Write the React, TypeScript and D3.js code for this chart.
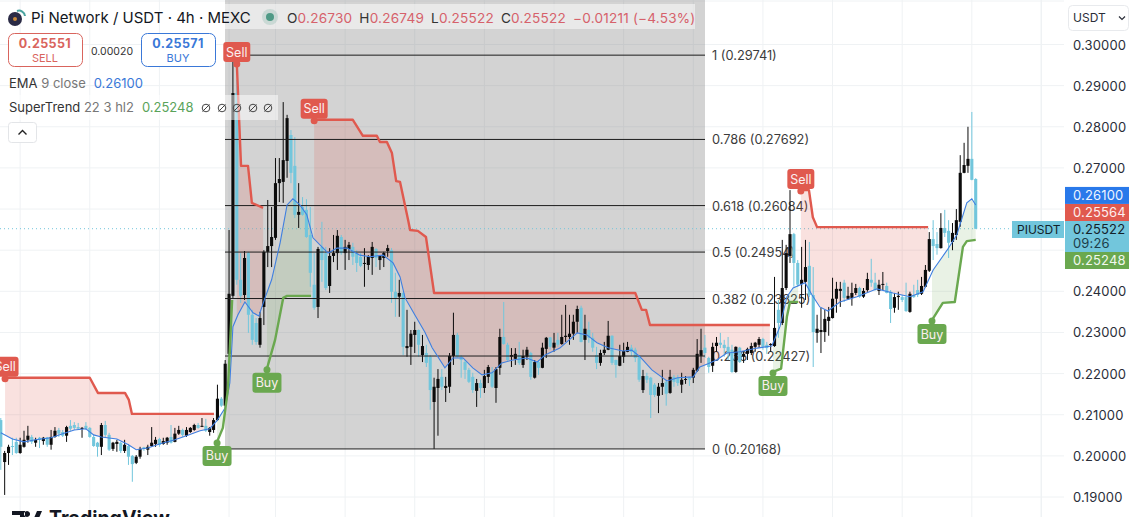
import React from "react";
import * as d3 from "d3";

// candle prices are in 1/10000 USDT
const opens = [
  2087,1985,2007,2024,2034,2007,2022,2039,2046,2032,
  2044,2036,2045,2027,2046,2063,2058,2049,2073,2075,
  2070,2066,2073,2068,2046,2032,2022,2075,2051,2017,
  2029,2032,2012,2024,2000,1983,1998,2021,2015,2024,
  2029,2041,2029,2032,2046,2034,2054,2063,2049,2058,
  2063,2075,2071,2073,2058,2063,2087,2139,2122,2248,
  2389,2882,2428,2391,2493,2343,2323,2270,2362,2496,
  2510,2530,2663,2666,2717,2780,2705,2586,2605,2598,
  2537,2416,2362,2508,2493,2413,2486,2493,2532,2493,
  2503,2508,2493,2484,2467,2464,2481,2503,2476,2481,
  2498,2500,2399,2387,2396,2262,2265,2294,2306,2245,
  2250,2241,2131,2165,2192,2165,2168,2243,2294,2241,
  2228,2209,2192,2158,2177,2165,2192,2204,2165,2214,
  2289,2270,2241,2236,2245,2221,2241,2250,2190,2228,
  2214,2260,2288,2263,2282,2272,2289,2289,2297,2326,
  2360,2282,2306,2287,2245,2226,2250,2258,2292,2233,
  2219,2241,2253,2263,2258,2243,2160,2194,2190,2173,
  2146,2168,2180,2153,2192,2190,2173,2185,2190,2190,
  2207,2243,2263,2238,2219,2267,2275,2270,2265,2258,
  2204,2263,2241,2248,2250,2265,2270,2284,2270,2270,
  2267,2355,2323,2408,2486,2539,2469,2418,2423,2462,
  2391,2299,2301,2301,2328,2335,2382,2401,2421,2382,
  2384,2396,2408,2387,2403,2428,2421,2401,2416,2413,
  2399,2360,2386,2386,2386,2350,2391,2403,2394,2411,
  2450,2527,2515,2505,2554,2547,2520,2537,2569,2688,
  2705,2722,2673,
];
const closes = [
  2022,2007,2022,2022,2007,2027,2039,2049,2034,2039,
  2039,2044,2027,2046,2061,2054,2049,2070,2066,2068,
  2066,2068,2066,2046,2024,2022,2075,2051,2015,2032,
  2034,2012,2027,1998,1980,1998,2017,2017,2022,2032,
  2039,2027,2036,2044,2032,2054,2063,2051,2063,2068,
  2075,2068,2073,2061,2068,2087,2139,2122,2224,2394,
  2882,2428,2389,2481,2343,2282,2277,2335,2496,2510,
  2532,2663,2673,2719,2821,2688,2586,2593,2586,2532,
  2445,2360,2503,2476,2408,2486,2493,2535,2493,2508,
  2513,2484,2469,2462,2469,2484,2508,2481,2486,2493,
  2505,2399,2384,2396,2265,2267,2297,2306,2270,2267,
  2226,2160,2168,2187,2168,2170,2243,2294,2241,2233,
  2209,2180,2160,2177,2165,2194,2216,2168,2211,2289,
  2272,2233,2245,2248,2226,2243,2258,2192,2228,2214,
  2263,2287,2265,2275,2270,2289,2292,2297,2326,2357,
  2277,2309,2287,2263,2226,2250,2258,2292,2226,2221,
  2243,2255,2265,2253,2238,2185,2194,2185,2148,2148,
  2168,2177,2151,2192,2180,2177,2185,2187,2185,2209,
  2248,2257,2250,2216,2265,2275,2270,2262,2250,2204,
  2265,2228,2248,2260,2267,2275,2284,2265,2262,2272,
  2311,2323,2408,2493,2539,2469,2416,2428,2459,2391,
  2301,2309,2306,2333,2338,2382,2406,2406,2384,2389,
  2396,2408,2387,2401,2430,2421,2403,2416,2418,2396,
  2357,2386,2389,2379,2352,2394,2386,2391,2413,2452,
  2527,2510,2505,2554,2542,2518,2542,2573,2688,2707,
  2722,2671,2552,
];
const highs = [
  2092,2012,2027,2044,2044,2044,2061,2073,2051,2044,
  2046,2046,2046,2063,2070,2068,2063,2073,2087,2082,
  2080,2070,2082,2070,2051,2034,2080,2085,2056,2034,
  2039,2034,2039,2029,2002,2002,2022,2022,2027,2070,
  2046,2044,2044,2046,2075,2068,2073,2066,2070,2070,
  2078,2080,2092,2090,2070,2092,2173,2143,2233,2549,
  2974,2914,2493,2498,2496,2355,2335,2350,2500,2622,
  2605,2724,2724,2860,2829,2792,2775,2663,2629,2624,
  2605,2493,2508,2569,2508,2505,2537,2549,2537,2525,
  2520,2518,2500,2493,2505,2488,2520,2505,2488,2496,
  2513,2505,2445,2428,2399,2355,2306,2326,2307,2294,
  2270,2245,2190,2211,2211,2192,2250,2348,2299,2245,
  2233,2214,2202,2187,2185,2209,2221,2216,2216,2309,
  2374,2275,2262,2262,2277,2258,2265,2253,2233,2233,
  2275,2289,2289,2299,2299,2343,2367,2343,2343,2365,
  2365,2343,2326,2299,2265,2258,2277,2328,2293,2234,
  2270,2275,2277,2270,2263,2245,2209,2202,2192,2177,
  2177,2209,2185,2209,2197,2197,2202,2194,2192,2214,
  2284,2309,2294,2241,2275,2289,2299,2282,2289,2270,
  2266,2265,2253,2263,2275,2277,2289,2287,2277,2274,
  2435,2379,2525,2513,2646,2542,2476,2508,2525,2520,
  2459,2343,2360,2355,2362,2433,2423,2423,2428,2411,
  2421,2418,2411,2408,2445,2479,2445,2428,2447,2421,
  2403,2396,2399,2391,2421,2399,2416,2428,2435,2464,
  2544,2573,2544,2590,2598,2573,2566,2600,2731,2761,
  2800,2836,2675,
];
const lows = [
  1966,1905,1978,2002,2005,2005,2020,2032,2029,2022,
  2019,2027,2022,2015,2044,2046,2046,2034,2061,2063,
  2063,2044,2063,2044,2022,1998,2002,2046,2012,2012,
  2010,2007,2007,1978,1937,1980,1993,2012,2002,2022,
  2022,2022,2027,2027,2030,2033,2051,2046,2046,2056,
  2061,2066,2070,2058,2049,2056,2085,2119,2117,2243,
  2384,2416,2372,2379,2299,2270,2270,2263,2318,2459,
  2459,2525,2617,2615,2676,2663,2578,2554,2584,2530,
  2411,2355,2335,2423,2403,2396,2471,2452,2489,2452,
  2476,2464,2447,2459,2411,2452,2440,2459,2452,2459,
  2484,2372,2338,2338,2245,2241,2221,2250,2241,2228,
  2216,2112,2017,2049,2160,2131,2153,2221,2238,2190,
  2187,2177,2153,2119,2141,2153,2177,2165,2129,2197,
  2270,2231,2216,2221,2221,2214,2233,2185,2188,2197,
  2213,2238,2258,2253,2265,2270,2277,2270,2282,2299,
  2276,2233,2275,2253,2211,2219,2245,2257,2221,2190,
  2218,2226,2252,2243,2228,2180,2153,2177,2092,2143,
  2104,2148,2122,2151,2168,2170,2153,2175,2170,2177,
  2204,2226,2238,2202,2204,2253,2262,2241,2233,2202,
  2202,2226,2226,2233,2245,2253,2263,2258,2248,2253,
  2265,2287,2318,2403,2469,2411,2411,2360,2379,2386,
  2216,2275,2250,2277,2292,2334,2348,2362,2374,2379,
  2365,2391,2384,2384,2399,2411,2402,2391,2403,2395,
  2323,2348,2355,2374,2350,2348,2384,2386,2391,2410,
  2447,2476,2489,2504,2532,2481,2500,2525,2557,2687,
  2688,2670,2552,
];

// EMA 9, read at these bars
const emaBars = [
  0,3,6,9,13,16,19,22,24,26,30,33,35,38,41,45,48,51.5,54,56,58,59.2,60,61.3,63.1,65.2,66.7,68.3,70,72.2,
  74,75.5,77.3,79.1,80.7,83,84.6,86.9,89.5,92.8,95.4,98.8,101.4,103.2,104.5,107,109.6,111.5,114.8,116.9,
  119.5,122,124.4,127,129.5,132.4,136,138.6,140.7,144.5,149,151.5,154.1,157,160.8,163.1,165.2,168.3,172.2,175,
  179,180.7,182.8,185,187.7,191,195.5,199.3,201.4,203.2,204.8,207.9,209.7,211.7,213.8,216.9,221.3,226.5,230.6,235,
  238.4,241,244.6,247.1,249.7,251,252,
];
const emaValues = [
  2056,2041,2034,2039,2044,2054,2063,2066,2051,2046,2041,2027,2015,2019,2029,2039,2049,2061,2066,2087,2117,2177,2314,2343,2374,2348,2340,2384,2428,2518,
  2610,2625,2610,2586,2530,2508,2493,2505,2505,2488,2484,2488,2469,2435,2384,2343,2301,2263,2214,2238,
  2238,2214,2197,2202,2226,2233,2238,2228,2245,2262,2299,2294,2275,2263,2255,2257,2241,2209,2182,2190,
  2192,2216,2224,2233,2250,2253,2262,2267,2314,2387,2408,2421,2391,2362,2352,2374,2387,2406,2396,2387,
  2399,2452,2500,2537,2615,2625,2610,
];

// SuperTrend legs, alternating sell and buy
const sellLegBarsA = [1.1,23,25.1,32.1,33.1,33.9,55.1];
const sellLegValuesA = [2190,2190,2153,2153,2136,2102,2102];
const buyLegBarsA = [55.9,57.4,58.7,59.8];
const buyLegValuesA = [2034,2068,2161,2379];
const sellLegBarsB = [61,62.1,63.9,64.9,67.8];
const sellLegValuesB = [2955,2705,2705,2615,2603];
const buyLegBarsB = [68.8,70.9,73,74,80.2];
const buyLegValuesB = [2212,2282,2384,2389,2389];
const sellLegBarsC = [81,91,93.6,97.2,98,99.8,101.1,102.2,103.2,105.3,105.8,107.8,109.9,112,164,165.7,166.8,167.8,198.8];
const sellLegValuesC = [2817,2817,2778,2778,2763,2763,2736,2668,2666,2573,2549,2547,2532,2396,2396,2355,2355,2318,2318];
const buyLegBarsC = [199.6,201.7,203.2,204,206.1];
const buyLegValuesC = [2204,2212,2338,2374,2374];
const sellLegBarsD = [206.8,208.9,209.9,211,239.7];
const sellLegValuesD = [2646,2646,2580,2556,2556];
const buyLegBarsD = [240.7,243.5,246.6,248.7,249.7,252];
const buyLegValuesD = [2330,2372,2374,2508,2522,2525];

const fibLevels = ["1", "0.786", "0.618", "0.5", "0.382", "0.236", "0"];
const fibPrices = [0.29741, 0.27692, 0.26084, 0.24954, 0.23825, 0.22427, 0.20168];
const priceTicks = [0.19, 0.2, 0.21, 0.22, 0.23, 0.24, 0.25, 0.26, 0.27, 0.28, 0.29, 0.3];
const gridBars = [5, 23, 41, 59, 71, 89, 107, 125, 143, 161, 179, 197, 215, 233, 251, 269];

const lastPrice = 0.25522;
const tagPrices = [0.261, 0.25564, 0.25522, 0.25248];

const FONT = "Inter, 'Noto Sans', sans-serif";
const RED = "#e0594e";
const GREEN = "#6aa84f";
const CANDLE_UP = "#0c0c0c";
const CANDLE_DOWN = "#72c6dc";

const x = d3.scaleLinear().domain([0, opens.length - 1]).range([0.8, 975.7]);
const y = d3.scaleLinear().domain([0.19, 0.3]).range([497, 44.5]);
const toPrice = (v: number) => v / 10000;
const emaAt = d3.scaleLinear().domain(emaBars).range(emaValues);

const legs = [
  { bars: sellLegBarsA, values: sellLegValuesA, sell: true },
  { bars: buyLegBarsA, values: buyLegValuesA, sell: false },
  { bars: sellLegBarsB, values: sellLegValuesB, sell: true },
  { bars: buyLegBarsB, values: buyLegValuesB, sell: false },
  { bars: sellLegBarsC, values: sellLegValuesC, sell: true },
  { bars: buyLegBarsC, values: buyLegValuesC, sell: false },
  { bars: sellLegBarsD, values: sellLegValuesD, sell: true },
  { bars: buyLegBarsD, values: buyLegValuesD, sell: false },
];

const lineGen = d3.line<number[]>().x(d => x(d[0])).y(d => y(toPrice(d[1])));

// the band runs from the SuperTrend leg to the EMA, bar by bar
function legBand(bars: number[], values: number[]) {
  const at = d3.scaleLinear().domain(bars).range(values);
  const first = bars[0];
  const last = bars[bars.length - 1];
  const steps = Array.from(new Set([...bars, ...d3.range(Math.ceil(first), last)])).sort((a, b) => a - b);
  return d3.area<number>()
    .x(b => x(b))
    .y0(b => y(toPrice(at(b))))
    .y1(b => y(toPrice(emaAt(b))))(steps);
}

const Signal = ({ bar, value, sell }: { bar: number; value: number; sell: boolean }) => {
  const cx = x(bar);
  const cy = y(toPrice(value));
  const top = sell ? cy - 21 : cy + 4;
  const w = sell ? 27 : 29;
  return (
    <g>
      <circle cx={cx} cy={cy + 1} r={3.5} fill={sell ? RED : GREEN} />
      <rect x={cx - w / 2} y={top} width={w} height={20} rx={3} fill={sell ? RED : GREEN} />
      <text x={cx} y={top + 14.5} textAnchor="middle" fontSize={12.5} fill="#fbeeee">{sell ? "Sell" : "Buy"}</text>
    </g>
  );
};

const App = () => {
  const barW = 3.1;
  return (
    <svg width={1133} height={517} fontFamily={FONT} style={{ position: "absolute", left: 0, top: 0, background: "#fff" }}>
      {/* grid */}
      <g stroke="#eff2f4" strokeWidth={1}>
        <line x1={0} x2={1133} y1={1} y2={1} />
        {priceTicks.map(t => <line key={t} x1={0} x2={1064} y1={y(t)} y2={y(t)} />)}
        {gridBars.map(b => <line key={b} x1={x(b)} x2={x(b)} y1={0} y2={517} />)}
      </g>

      {/* fib box */}
      <rect x={225} y={0} width={480} height={y(fibPrices[6])} fill="#808080" fillOpacity={0.35} />

      {/* fib labels sit under the candles */}
      <g fontSize={12.8} fill="#3b3b3b">
        {fibLevels.map((l, i) => (
          <text key={l} x={712} y={y(fibPrices[i]) + 5}>{`${l} (${fibPrices[i].toFixed(5)})`}</text>
        ))}
      </g>

      {/* last price line */}
      <line x1={0} x2={1012} y1={y(lastPrice)} y2={y(lastPrice)} stroke={CANDLE_DOWN} strokeDasharray="1 3" />

      {/* SuperTrend bands */}
      {legs.map((leg, i) => (
        <path key={i} d={legBand(leg.bars, leg.values) ?? ""} fill={leg.sell ? "#e0594e" : "#6aa84f"} fillOpacity={leg.sell ? 0.18 : 0.15} />
      ))}

      {/* candles */}
      {opens.map((o, i) => {
        const up = closes[i] > o;
        const col = up ? CANDLE_UP : CANDLE_DOWN;
        const top = y(toPrice(Math.max(o, closes[i])));
        const bot = y(toPrice(Math.min(o, closes[i])));
        return (
          <g key={i}>
            <line x1={x(i)} x2={x(i)} y1={y(toPrice(highs[i]))} y2={y(toPrice(lows[i]))} stroke={col} strokeWidth={1} />
            <rect x={x(i) - barW / 2} y={top} width={barW} height={Math.max(bot - top, 1)} fill={col} />
          </g>
        );
      })}

      {/* fib lines */}
      <g stroke="#1d1d1d" strokeWidth={1}>
        {fibPrices.map(p => <line key={p} x1={225} x2={705} y1={y(p)} y2={y(p)} />)}
      </g>

      {/* EMA */}
      <path d={lineGen(emaBars.map((b, i) => [b, emaValues[i]])) ?? ""} fill="none" stroke="#3f7fe0" strokeWidth={1.1} />

      {/* SuperTrend lines and signals */}
      {legs.map((leg, i) => (
        <path key={i} d={lineGen(leg.bars.map((b, j) => [b, leg.values[j]])) ?? ""} fill="none"
          stroke={leg.sell ? RED : GREEN} strokeWidth={2.4} strokeLinejoin="round" />
      ))}
      {legs.map((leg, i) => <Signal key={i} bar={leg.bars[0]} value={leg.values[0]} sell={leg.sell} />)}

      {/* legend backdrops */}
      <rect x={225} y={4} width={470} height={25} fill="#fff" fillOpacity={0.5} />
      <rect x={0} y={95} width={278} height={25} fill="#fff" fillOpacity={0.5} />

      {/* title row */}
      <circle cx={15} cy={19} r={7} fill="#2a2a45" />
      <circle cx={15} cy={19} r={2} fill="#c98a3a" />
      <path d="M17 11 a6 6 0 0 1 8 5" fill="none" stroke="#4aa3a0" strokeWidth={2} />
      <text x={31} y={23} fontSize={15} fill="#131722">Pi Network / USDT · 4h · MEXC</text>
      <circle cx={270} cy={17} r={8} fill="#4f9a86" fillOpacity={0.2} />
      <circle cx={270} cy={17} r={4} fill="#4f9a86" />
      <text x={287} y={23} fontSize={13.6} fill="#d6616b" letterSpacing={0.2}>
        <tspan fill="#333">O</tspan>0.26730 <tspan dx={3} fill="#333">H</tspan>0.26749 <tspan dx={3} fill="#333">L</tspan>0.25522 <tspan dx={3} fill="#333">C</tspan>0.25522 <tspan dx={3}>−0.01211 (−4.53%)</tspan>
      </text>

      {/* order buttons */}
      <rect x={8.5} y={33.5} width={74} height={33} rx={6} fill="#fff" stroke="#d9645d" />
      <text x={45} y={48} textAnchor="middle" fontSize={12.5} fontWeight={700} fill="#d9645d" letterSpacing={0.4}>0.25551</text>
      <text x={45} y={62} textAnchor="middle" fontSize={11} fill="#d9645d">SELL</text>
      <text x={112} y={55} textAnchor="middle" fontSize={10.5} fill="#333">0.00020</text>
      <rect x={141.5} y={33.5} width={74} height={33} rx={6} fill="#fff" stroke="#3a78d8" />
      <text x={178} y={48} textAnchor="middle" fontSize={12.5} fontWeight={700} fill="#3a78d8" letterSpacing={0.4}>0.25571</text>
      <text x={178} y={62} textAnchor="middle" fontSize={11} fill="#3a78d8">BUY</text>

      {/* indicator legends */}
      <text x={9} y={88} fontSize={13} fill="#333">EMA <tspan fill="#777">9 close</tspan><tspan dx={8} fill="#3a78d8">0.26100</tspan></text>
      <text x={9} y={112} fontSize={13} fill="#333">SuperTrend <tspan fill="#777">22 3 hl2</tspan><tspan dx={8} fill="#5aa35a">0.25248</tspan></text>
      {[206, 222, 237, 253, 268].map(cx => (
        <g key={cx} fill="none" stroke="#444" strokeWidth={1}>
          <circle cx={cx} cy={108} r={3.8} />
          <line x1={cx - 3.5} x2={cx + 3.5} y1={111.5} y2={104.5} />
        </g>
      ))}
      <rect x={8.5} y={122.5} width={28} height={20} rx={3} fill="#fff" stroke="#e3e5e8" />
      <path d="M18.5 134.5 l4 -4 l4 4" fill="none" stroke="#222" strokeWidth={1.4} />

      {/* price axis */}
      <rect x={1064} y={0} width={69} height={517} fill="#fff" />
      <line x1={1041} x2={1041} y1={0} y2={517} stroke="#eff2f4" />
      {priceTicks.filter(t => t !== 0.26 && t !== 0.25).map(t => (
        <text key={t} x={1073} y={y(t) + 5} fontSize={13} fill="#2a2e39" letterSpacing={0.15}>{t.toFixed(5)}</text>
      ))}
      <rect x={1068.5} y={5.5} width={60} height={25} rx={4} fill="#fff" stroke="#e8eaed" />
      <text x={1073} y={22} fontSize={12} fill="#2a2e39">USDT</text>
      <path d="M1119 16.5 l3 3 l3 -3" fill="none" stroke="#2a2e39" strokeWidth={1.2} />

      {/* price tags */}
      <rect x={1065} y={y(tagPrices[0]) - 18} width={64} height={17} fill="#2979ea" />
      <text x={1073} y={y(tagPrices[0]) - 5} fontSize={13} fill="#eef5ff" letterSpacing={0.15}>{tagPrices[0].toFixed(5)}</text>
      <rect x={1065} y={204} width={64} height={17} fill={RED} />
      <text x={1073} y={217} fontSize={13} fill="#fdeeee" letterSpacing={0.15}>{tagPrices[1].toFixed(5)}</text>
      <rect x={1065} y={221} width={64} height={31} fill={CANDLE_DOWN} />
      <text x={1073} y={234} fontSize={13} fill="#13222a" letterSpacing={0.15}>{tagPrices[2].toFixed(5)}</text>
      <text x={1073} y={248} fontSize={13} fill="#1c3d4a" letterSpacing={0.15}>09:26</text>
      <rect x={1065} y={252} width={64} height={17} fill={GREEN} />
      <text x={1073} y={265} fontSize={13} fill="#f1f8ee" letterSpacing={0.15}>{tagPrices[3].toFixed(5)}</text>
      <rect x={1012} y={221} width={52} height={17} fill={CANDLE_DOWN} />
      <text x={1017} y={234} fontSize={12} fill="#13222a">PIUSDT</text>

      {/* watermark, cut by the bottom edge */}
      <path d="M12 511 h13 v14 h-5 v-10 h-8 z M27 511 a3 3 0 1 0 0.01 0 z M31 525 l6 -14 h5 l-6 14 z" fill="#131722" />
      <text x={49} y={525} fontSize={19.5} fontWeight={700} fill="#131722">TradingView</text>
    </svg>
  );
};

export default App;
